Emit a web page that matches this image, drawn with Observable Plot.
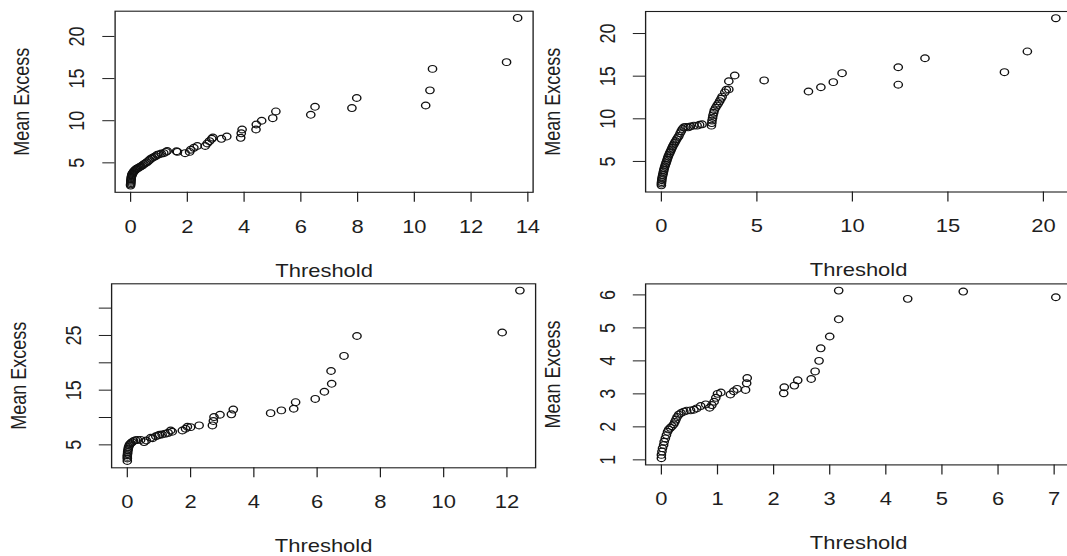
<!DOCTYPE html>
<html><head><meta charset="utf-8">
<script src="https://cdn.jsdelivr.net/npm/d3@7"></script>
<script src="https://cdn.jsdelivr.net/npm/@observablehq/plot@0.6"></script>
<style>
html,body{margin:0;padding:0;background:#fff;overflow:hidden;}
#wrap{position:relative;width:1067px;height:556px;overflow:hidden;background:#fff;}
#wrap svg{position:absolute;}
</style></head><body><div id="wrap"></div>
<script>
// ---- data ----
const xLabel = "Threshold";
const yLabel = "Mean Excess";

const tlThreshold = [0.00,0.00,0.01,0.01,0.01,0.02,0.02,0.03,0.04,0.05,0.06,0.08,0.10,0.12,0.15,0.18,0.21,0.25,0.29,0.33,0.37,0.42,0.47,0.52,0.57,0.62,0.67,0.72,0.77,0.83,0.88,0.94,1.00,1.08,1.17,1.25,1.29,1.62,1.65,1.92,2.08,2.12,2.23,2.35,2.63,2.70,2.78,2.86,2.90,3.20,3.39,3.88,3.90,3.93,4.42,4.43,4.62,5.01,5.12,6.35,6.50,7.80,7.97,10.40,10.55,10.64,13.25,13.64];
const tlMeanExcess = [2.30,2.45,2.60,2.75,2.90,3.05,3.20,3.35,3.50,3.60,3.70,3.80,3.90,4.00,4.10,4.20,4.30,4.35,4.45,4.50,4.60,4.70,4.85,4.95,5.05,5.20,5.35,5.50,5.60,5.70,5.80,5.95,6.00,6.10,6.15,6.30,6.40,6.38,6.30,6.15,6.30,6.55,6.78,7.00,7.00,7.30,7.57,7.85,8.00,7.85,8.12,7.97,8.50,8.96,8.96,9.55,10.00,10.30,11.10,10.70,11.65,11.50,12.70,11.80,13.60,16.15,16.95,22.20];

const trThreshold = [0.00,0.00,0.01,0.02,0.03,0.05,0.07,0.09,0.11,0.13,0.15,0.18,0.21,0.24,0.27,0.30,0.33,0.36,0.40,0.44,0.48,0.52,0.56,0.60,0.65,0.70,0.75,0.80,0.86,0.92,0.98,1.04,1.10,1.18,1.28,1.40,1.52,1.70,1.87,2.00,2.13,2.62,2.64,2.65,2.68,2.70,2.74,2.77,2.84,2.91,2.98,3.05,3.12,3.18,3.32,3.40,3.53,3.53,3.84,5.38,7.70,8.35,9.00,9.46,12.40,12.40,13.80,17.96,19.16,20.65];
const trMeanExcess = [2.20,2.40,2.60,2.80,3.00,3.20,3.40,3.60,3.80,4.00,4.20,4.40,4.60,4.80,5.00,5.20,5.40,5.60,5.80,6.00,6.20,6.40,6.60,6.80,7.00,7.20,7.40,7.60,7.80,8.00,8.30,8.55,8.80,9.00,9.05,9.00,9.10,9.20,9.20,9.30,9.35,9.20,9.50,9.80,10.10,10.40,10.70,11.00,11.30,11.56,11.80,12.07,12.35,12.60,13.10,13.40,13.45,14.40,15.08,14.50,13.20,13.70,14.30,15.35,14.00,16.05,17.10,15.47,17.90,21.80];

const blThreshold = [0.00,0.00,0.00,0.00,0.01,0.01,0.02,0.03,0.04,0.06,0.08,0.11,0.15,0.20,0.26,0.32,0.42,0.53,0.60,0.74,0.80,0.90,0.97,1.02,1.10,1.20,1.29,1.37,1.42,1.74,1.84,1.90,2.00,2.27,2.69,2.72,2.74,2.93,3.29,3.35,4.53,4.87,5.26,5.32,5.94,6.23,6.46,6.44,6.85,7.26,11.85,12.41];
const blMeanExcess = [2.05,2.50,2.80,3.10,3.40,3.70,4.00,4.30,4.60,4.90,5.10,5.30,5.50,5.70,5.85,5.90,5.90,5.50,5.80,6.29,6.20,6.58,6.70,6.85,6.90,7.05,7.20,7.63,7.40,7.63,7.95,8.30,8.24,8.55,8.55,9.35,10.08,10.50,10.58,11.45,10.80,11.30,11.60,12.80,13.40,14.70,16.16,18.50,21.26,24.90,25.55,33.20];

const brThreshold = [0.00,0.00,0.01,0.02,0.04,0.05,0.07,0.09,0.11,0.13,0.16,0.19,0.22,0.24,0.26,0.28,0.31,0.35,0.40,0.45,0.52,0.58,0.63,0.70,0.79,0.86,0.90,0.94,0.97,1.00,1.06,1.23,1.29,1.35,1.50,1.52,1.53,2.18,2.19,2.37,2.43,2.67,2.74,2.81,2.84,3.00,3.16,3.16,4.39,5.38,7.03];
const brMeanExcess = [1.05,1.15,1.25,1.35,1.45,1.55,1.65,1.75,1.85,1.92,1.97,2.02,2.08,2.15,2.22,2.30,2.37,2.42,2.46,2.49,2.50,2.52,2.56,2.63,2.68,2.58,2.66,2.76,2.88,3.00,3.04,2.98,3.08,3.15,3.12,3.32,3.48,3.02,3.20,3.25,3.41,3.45,3.68,4.00,4.38,4.74,5.26,6.13,5.88,6.10,5.93];

const tlXTicks = [0,2,4,6,8,10,12,14];
const tlYTicks = [5,10,15,20];
const trXTicks = [0,5,10,15,20];
const trYTicks = [5,10,15,20];
const blXTicks = [0,2,4,6,8,10,12];
const blYTicks = [5,10,15,20,25,30];
const blYShown = [5,15,25];
const brXTicks = [0,1,2,3,4,5,6,7];
const brYTicks = [1,2,3,4,5,6];

// ---- layout ----
const S = 1.22; // horizontal stretch of the reference picture
const pad = ([a, b]) => [a - 0.04 * (b - a), b + 0.04 * (b - a)];
const ink = "#1e1e1e";

function panel({xs, ys, xTicks, yTicks, yFmt, box, pos}) {
  const [bx0, bx1, by0, by1] = box;
  const [sx, sy, ws, hs] = pos;
  const data = xs.map((x, i) => ({x, y: ys[i]}));
  const svg = Plot.plot({
    width: ws / S, height: hs,
    marginLeft: (bx0 - sx) / S, marginRight: (sx + ws - bx1) / S,
    marginTop: by0 - sy, marginBottom: sy + hs - by1,
    x: {domain: pad(d3.extent(xs))},
    y: {domain: pad(d3.extent(ys))},
    style: {fontFamily: "'Liberation Sans', Arial, sans-serif", fontSize: "18px", color: ink, background: "transparent", overflow: "visible"},
    marks: [
      Plot.axisX({ticks: xTicks, tickSize: 10, tickPadding: 17.5, tickFormat: d => String(d), label: null, strokeWidth: 1}),
      Plot.axisY({ticks: yTicks, tickSize: 10, tickPadding: 15.5, tickRotate: -90, tickFormat: yFmt, label: null, strokeWidth: 1}),
      Plot.dot(data, {x: "x", y: "y", r: 3.4, stroke: "#111", strokeWidth: 1.15, fill: "none"}),
      Plot.frame({stroke: ink, strokeWidth: 1.1}),
      Plot.text([xLabel], {text: d => d, frameAnchor: "bottom", dy: 78.7, textAnchor: "middle", lineAnchor: "middle", fill: ink}),
      Plot.text([yLabel], {text: d => d, frameAnchor: "left", dx: -76, rotate: -90, textAnchor: "middle", lineAnchor: "middle", fill: ink})
    ]
  });
  svg.setAttribute("preserveAspectRatio", "none");
  svg.setAttribute("width", ws);
  svg.style.width = ws + "px";
  svg.style.height = hs + "px";
  svg.style.maxWidth = "none";
  svg.style.left = sx + "px";
  svg.style.top = sy + "px";
  document.getElementById("wrap").appendChild(svg);
}

panel({xs: tlThreshold, ys: tlMeanExcess, xTicks: tlXTicks, yTicks: tlYTicks, yFmt: d => String(d),
       box: [114.5, 532.5, 10.7, 191.8], pos: [0, 0, 540, 290]});
panel({xs: trThreshold, ys: trMeanExcess, xTicks: trXTicks, yTicks: trYTicks, yFmt: d => String(d),
       box: [645, 1071, 11, 191.5], pos: [533, 0, 545, 290]});
panel({xs: blThreshold, ys: blMeanExcess, xTicks: blXTicks, yTicks: blYTicks, yFmt: d => blYShown.includes(d) ? String(d) : "",
       box: [111, 535, 283.3, 467.3], pos: [0, 272, 540, 284]});
panel({xs: brThreshold, ys: brMeanExcess, xTicks: brXTicks, yTicks: brYTicks, yFmt: d => String(d),
       box: [645, 1071, 283.4, 464.4], pos: [533, 272, 545, 284]});
</script>
</body></html>
